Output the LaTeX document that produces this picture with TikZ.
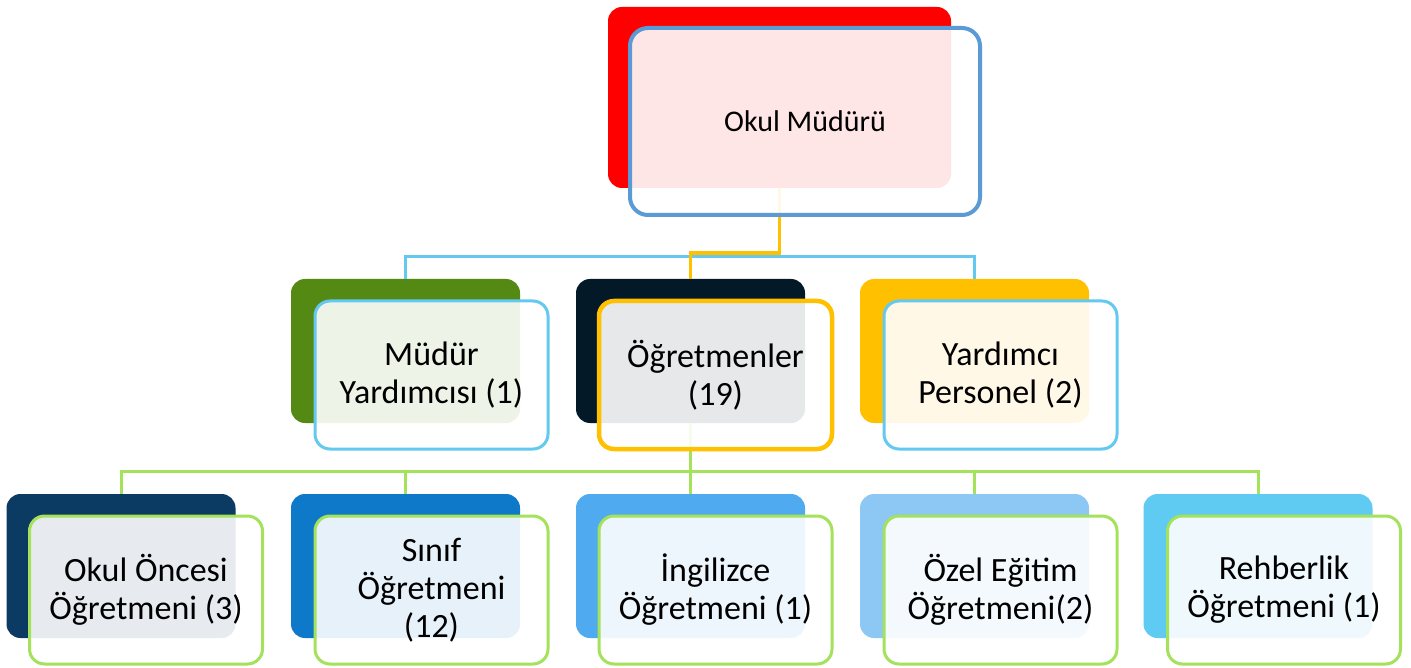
\documentclass[tikz,border=0pt]{standalone}
\usepackage{fontspec}
\setmainfont{Carlito}
\definecolor{cRed}{RGB}{255,0,0}
\definecolor{cTopBorder}{RGB}{91,155,213}
\definecolor{cGreenBack}{RGB}{84,138,20}
\definecolor{cNavy}{RGB}{4,25,40}
\definecolor{cAmber}{RGB}{255,192,0}
\definecolor{cSky}{RGB}{99,201,240}
\definecolor{cLime}{RGB}{163,226,90}
\definecolor{cB1}{RGB}{11,58,99}
\definecolor{cB2}{RGB}{14,120,201}
\definecolor{cB3}{RGB}{79,170,240}
\definecolor{cB4}{RGB}{141,199,243}
\definecolor{cB5}{RGB}{95,203,242}
\begin{document}
\begin{tikzpicture}[x=1pt,y=-1pt,
  backbox/.style={rounded corners=14pt, minimum width=229pt, minimum height=144pt, inner sep=0pt},
  frontbox/.style={rounded corners=15pt, minimum width=233pt, minimum height=148pt, inner sep=0pt,
     fill=white, fill opacity=0.9, text opacity=1, line width=3pt, align=center,
     font=\fontsize{34}{38}\selectfont, text=black},
  conn/.style={line width=3pt},
]
\fill[white] (0,0) rectangle (1411,668);
\useasboundingbox (0,0) rectangle (1411,668);

% ---------- back boxes ----------
\node[backbox, fill=cRed, minimum width=343pt, minimum height=181pt] (tb) at (779.5,97.5) {};
\node[backbox, fill=cGreenBack] (b1) at (405.5,351) {};
\node[backbox, fill=cNavy] (b2) at (690.5,351) {};
\node[backbox, fill=cAmber] (b3) at (974.5,351) {};
\node[backbox, fill=cB1] (c1) at (121,566) {};
\node[backbox, fill=cB2] (c2) at (405.5,566) {};
\node[backbox, fill=cB3] (c3) at (690.5,566) {};
\node[backbox, fill=cB4] (c4) at (974.5,566) {};
\node[backbox, fill=cB5] (c5) at (1258,566) {};

% ---------- connectors ----------
\coordinate (busA) at (0,257);
\coordinate (busY) at (0,253);
\coordinate (busB) at (0,471);
\draw[conn, cSky] (b1.north) -- (b1.north |- busA) -- (b3.north |- busA) -- (b3.north);
\draw[conn, cAmber, line width=3.5pt] (tb.south) -- (tb.south |- busY) -- (b2.north |- busY) -- (b2.north);
\draw[conn, cLime] (b2.south) -- (b2.south |- busB);
\draw[conn, cLime] (c1.north) -- (c1.north |- busB) -- (c5.north |- busB) -- (c5.north);
\draw[conn, cLime] (c2.north) -- (c2.north |- busB);
\draw[conn, cLime] (c3.north) -- (c3.north |- busB);
\draw[conn, cLime] (c4.north) -- (c4.north |- busB);

% ---------- front boxes ----------
\node[frontbox, draw=cTopBorder, line width=4pt, minimum width=350pt, minimum height=187pt,
      rounded corners=18pt, font=\fontsize{30}{36}\selectfont] (tf) at (805,121.5) {Okul Müdürü};
\node[frontbox, draw=cSky] (f1) at (431.5,375) {Müdür\\Yardımcısı (1)};
\node[frontbox, draw=cAmber, line width=4.5pt] (f2) at (715.5,375) {Öğretmenler\\(19)};
\node[frontbox, draw=cSky] (f3) at (1000.5,375) {Yardımcı\\Personel (2)};
\node[frontbox, draw=cLime] (g1) at (146,590) {Okul Öncesi\\Öğretmeni (3)};
\node[frontbox, draw=cLime] (g2) at (431.5,590) {Sınıf\\Öğretmeni\\(12)};
\node[frontbox, draw=cLime] (g3) at (715.5,590) {İngilizce\\Öğretmeni (1)};
\node[frontbox, draw=cLime] (g4) at (1000.5,590) {Özel Eğitim\\Öğretmeni(2)};
\node[frontbox, draw=cLime] (g5) at (1284,590) {Rehberlik\\Öğretmeni (1)};
\end{tikzpicture}
\end{document}
